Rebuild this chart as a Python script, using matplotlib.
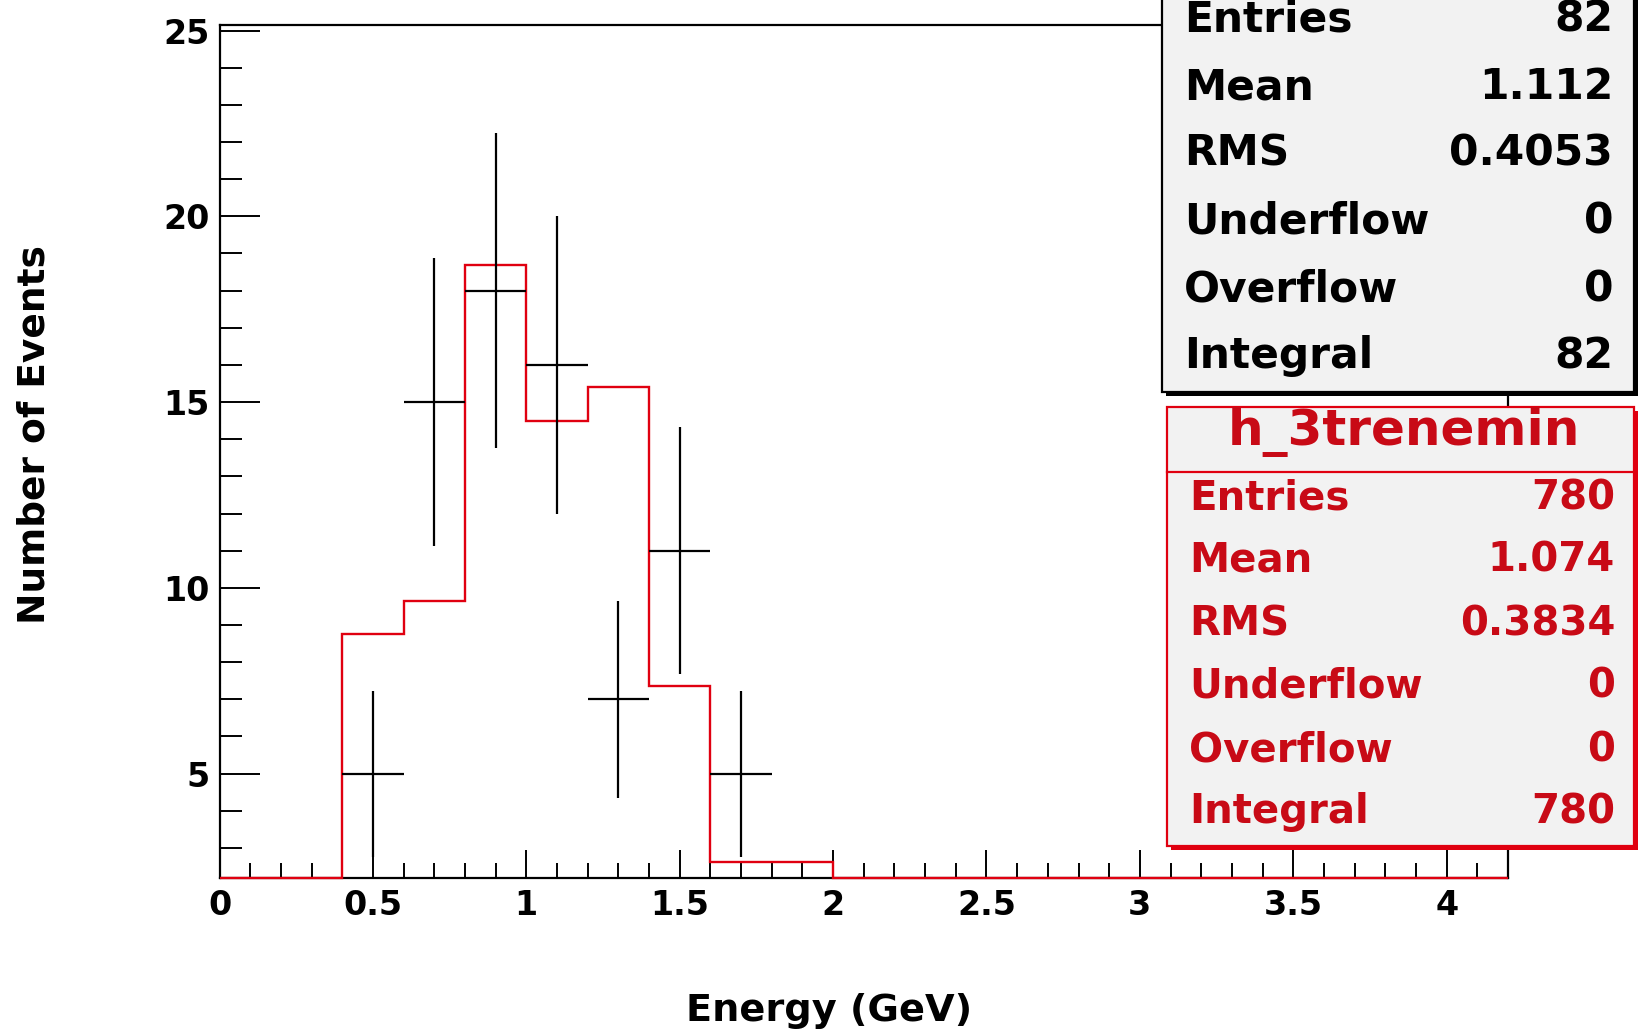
"""
Energy distribution of selected events: data points with Poisson errors
compared with the scaled simulation histogram (h_3trenemin), ROOT style.
"""

import numpy as np
import matplotlib.pyplot as plt
from matplotlib.patches import Rectangle
from matplotlib.ticker import MultipleLocator

# Data
bin_edges = np.round(np.arange(0.0, 4.21, 0.2), 2)
mc_heights = [0, 0, 8.75, 9.65, 18.7, 14.5, 15.4, 7.35, 2.62, 2.62,
              0, 0, 0, 0, 0, 0, 0, 0, 0, 0, 0]
data_centers = [0.5, 0.7, 0.9, 1.1, 1.3, 1.5, 1.7]
data_counts = [5, 15, 18, 16, 7, 11, 5]

stat_labels = ["Entries", "Mean", "RMS", "Underflow", "Overflow", "Integral"]
data_stats = ["82", "1.112", "0.4053", "0", "0", "82"]
mc_title = "h_3trenemin"
mc_stats = ["780", "1.074", "0.3834", "0", "0", "780"]

# Canvas geometry (pixels of the 1639x1035 picture)
W, H = 1639, 1035
Y_MIN, Y_MAX = 2.19, 25.15
RED = "#e00010"
RED_TEXT = "#c80a16"
BOX_FILL = "#f2f2f2"


def fx(px):
    return px / W


def fy(py):
    return 1 - py / H


def draw_box(fig, x0, y0, x1, y1, edge, shadow=4):
    """Stat box with ROOT-like drop shadow (pixel coords, y downwards)."""
    fig.add_artist(Rectangle((fx(x0 + shadow), fy(y1 + shadow)),
                             fx(x1 - x0), (y1 - y0) / H,
                             transform=fig.transFigure, facecolor=edge,
                             edgecolor=edge, lw=0, zorder=3))
    fig.add_artist(Rectangle((fx(x0), fy(y1)), fx(x1 - x0), (y1 - y0) / H,
                             transform=fig.transFigure, facecolor=BOX_FILL,
                             edgecolor=edge, lw=1.6, zorder=4))


def draw_rows(fig, values, ys, xl, xr, color, size):
    for lab, val, y in zip(stat_labels, values, ys):
        fig.text(fx(xl), fy(y), lab, color=color, fontsize=size,
                 fontweight="bold", ha="left", va="center", zorder=5)
        fig.text(fx(xr), fy(y), val, color=color, fontsize=size,
                 fontweight="bold", ha="right", va="center", zorder=5)


def main():
    plt.rcParams["font.family"] = ["DejaVu Sans"]
    fig = plt.figure(figsize=(W / 100, H / 100), dpi=100)
    ax = fig.add_axes([fx(219.5), fy(878), fx(1508 - 219.5), (878 - 25) / H])

    # simulation histogram; empty bins sit on the frame like in ROOT
    heights = np.maximum(np.array(mc_heights, dtype=float), Y_MIN)
    ax.stairs(heights, bin_edges, color=RED, lw=1.7, baseline=None,
              clip_on=False, zorder=3)

    # data with sqrt(N) errors and bin-width x errors
    counts = np.array(data_counts, dtype=float)
    ax.errorbar(data_centers, counts, xerr=0.1, yerr=np.sqrt(counts),
                fmt="none", ecolor="black", elinewidth=1.6, capsize=0,
                zorder=4)

    ax.set_xlim(0, 4.2)
    ax.set_ylim(Y_MIN, Y_MAX)
    ax.xaxis.set_major_locator(MultipleLocator(0.5))
    ax.xaxis.set_minor_locator(MultipleLocator(0.1))
    ax.yaxis.set_major_locator(MultipleLocator(5))
    ax.yaxis.set_minor_locator(MultipleLocator(1))
    ax.xaxis.set_major_formatter(plt.FuncFormatter(lambda v, p: f"{v:g}"))
    ax.tick_params(axis="x", which="major", direction="in", length=20,
                   width=1.4, pad=8, labelsize=24)
    ax.tick_params(axis="x", which="minor", direction="in", length=11,
                   width=1.4)
    ax.tick_params(axis="y", which="major", direction="in", length=29,
                   width=1.4, pad=7, labelsize=24)
    ax.tick_params(axis="y", which="minor", direction="in", length=16,
                   width=1.4)
    for lab in ax.get_xticklabels() + ax.get_yticklabels():
        lab.set_fontweight("bold")
    for sp in ax.spines.values():
        sp.set_linewidth(1.6)

    fig.text(fx(829), fy(1011), "Energy (GeV)", fontsize=27.5,
             fontweight="bold", ha="center", va="center")
    fig.text(fx(35), fy(435), "Number of Events", fontsize=27,
             fontweight="bold", ha="center", va="center", rotation=90)

    # data stat box (title row is cut off at the top of the canvas)
    draw_box(fig, 1162, -120, 1634, 392, "black")
    draw_rows(fig, data_stats, [19, 87, 154, 222, 289, 356],
              1184, 1613, "black", 30.5)

    # simulation stat box
    draw_box(fig, 1167, 407, 1634, 846, RED)
    fig.add_artist(plt.Line2D([fx(1167), fx(1634)], [fy(472), fy(472)],
                              transform=fig.transFigure, color=RED, lw=1.6,
                              zorder=5))
    fig.text(fx(1404), fy(432), mc_title, color=RED_TEXT, fontsize=36,
             fontweight="bold", ha="center", va="center", zorder=5)
    draw_rows(fig, mc_stats, [499, 561, 624, 687, 750, 812],
              1189, 1615, RED_TEXT, 29)

    fig.savefig("out.png", dpi=100)
    plt.close(fig)


if __name__ == "__main__":
    main()
